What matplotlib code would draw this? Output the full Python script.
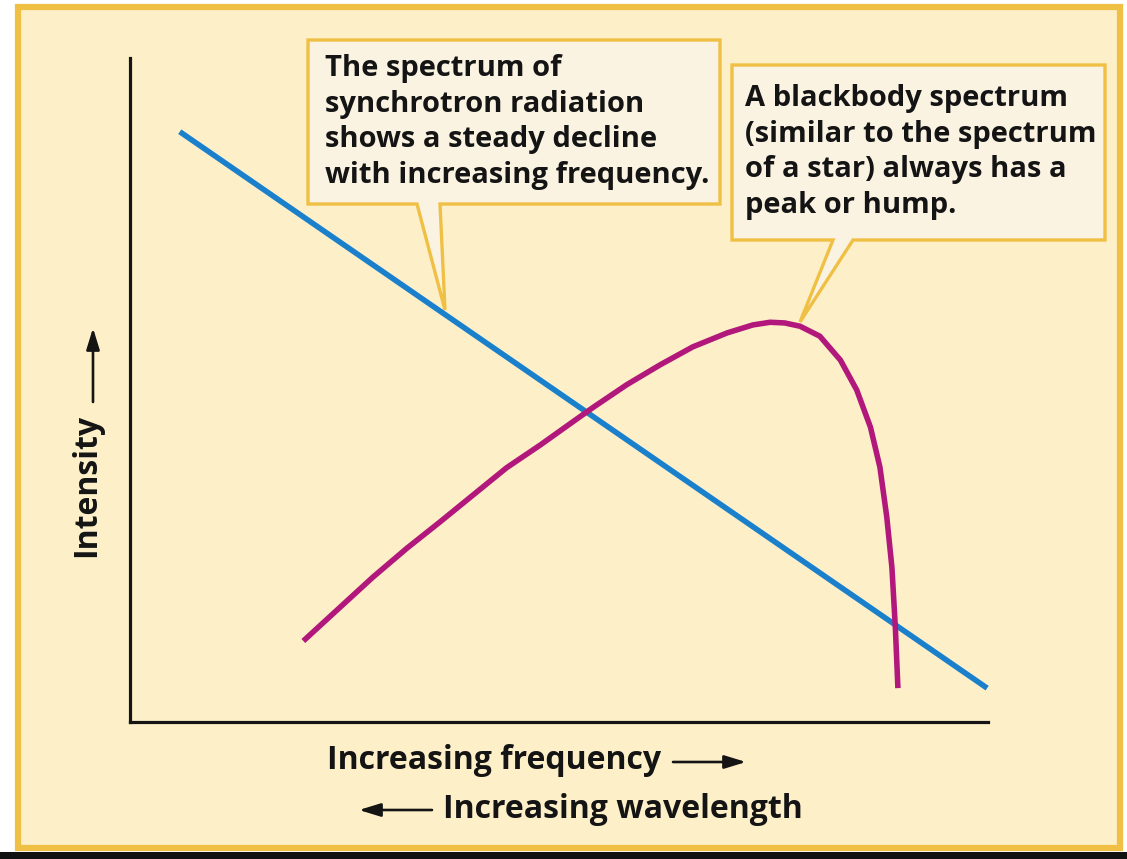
import numpy as np
import matplotlib
matplotlib.use("Agg")
import matplotlib.pyplot as plt
from matplotlib.patches import Rectangle, Polygon, FancyArrowPatch

# spectrum curves (axis runs 0..10 both ways)
sync_x = [0.58, 9.99]
sync_y = [8.89, 0.51]

bb_x = [2.02, 2.45, 2.83, 3.23, 3.61, 4.00, 4.39, 4.78, 5.16, 5.40, 5.79,
        6.18, 6.56, 6.96, 7.26, 7.46, 7.63, 7.81, 8.04, 8.28, 8.47, 8.63,
        8.74, 8.82, 8.88, 8.92, 8.95]
bb_y = [1.22, 1.73, 2.18, 2.62, 3.01, 3.42, 3.83, 4.17, 4.52, 4.74, 5.08,
        5.38, 5.65, 5.86, 5.98, 6.02, 6.01, 5.96, 5.81, 5.45, 5.00, 4.44,
        3.84, 3.09, 2.33, 1.43, 0.51]

note_sync = "The spectrum of\nsynchrotron radiation\nshows a steady decline\nwith increasing frequency."
note_bb = "A blackbody spectrum\n(similar to the spectrum\nof a star) always has a\npeak or hump."
xlabel_1 = "Increasing frequency"
xlabel_2 = "Increasing wavelength"
ylabel = "Intensity"

W, H = 1127, 859
BG = "#FDF0C9"
BOX = "#FBF3E2"
GOLD = "#F0C044"
BLUE = "#1A80CC"
MAGENTA = "#B2187C"
INK = "#141414"
FONT = "Open Sans"


def px(x, y):
    # picture pixels (from top-left) -> figure fraction
    return (x / W, 1 - y / H)


fig = plt.figure(figsize=(W / 100, H / 100), dpi=100)
fig.patch.set_facecolor("white")

# outer frame and black strip at the bottom
fig.patches.append(Rectangle(px(0, 859), 1, 7 / H, transform=fig.transFigure,
                             facecolor="#111111", edgecolor="none", zorder=-3))
fig.patches.append(Rectangle(px(18, 848), (1120 - 18) / W, (848 - 7) / H,
                             transform=fig.transFigure, facecolor=BG,
                             edgecolor=GOLD, linewidth=4.5, zorder=-3))

# callout boxes
box1 = [(308, 40), (720, 40), (720, 204), (440, 204), (445, 310), (417, 204), (308, 204)]
box2 = [(732, 65), (1105, 65), (1105, 240), (853, 240), (800, 322), (833, 240), (732, 240)]
for pts in (box1, box2):
    fig.patches.append(Polygon([px(*p) for p in pts], closed=True,
                               transform=fig.transFigure, facecolor=BOX,
                               edgecolor=GOLD, linewidth=2.4, joinstyle="miter",
                               zorder=-2))

fig.text(*px(325, 54), note_sync, fontsize=21, fontweight="bold", family=FONT,
         va="top", ha="left", linespacing=1.3, color=INK)
fig.text(*px(745, 84), note_bb, fontsize=21, fontweight="bold", family=FONT,
         va="top", ha="left", linespacing=1.3, color=INK)

ax = fig.add_axes([130 / W, 1 - 722 / H, (988 - 130) / W, (722 - 58) / H])
ax.set_facecolor("none")
ax.set_xlim(0, 10)
ax.set_ylim(0, 10)
for s in ("top", "right"):
    ax.spines[s].set_visible(False)
for s in ("left", "bottom"):
    ax.spines[s].set_linewidth(2.3)
    ax.spines[s].set_color(INK)
ax.set_xticks([])
ax.set_yticks([])

ax.plot(sync_x, sync_y, color=BLUE, linewidth=4.0, solid_capstyle="butt", clip_on=False)
ax.plot(bb_x, bb_y, color=MAGENTA, linewidth=4.0, solid_capstyle="butt",
        solid_joinstyle="round", clip_on=False)

# axis labels with their arrows
fig.text(*px(327, 769), xlabel_1, fontsize=23, fontweight="bold", family=FONT,
         ha="left", va="baseline", color=INK)
fig.text(*px(443, 818), xlabel_2, fontsize=23, fontweight="bold", family=FONT,
         ha="left", va="baseline", color=INK)
fig.text(*px(103, 485), ylabel, fontsize=23, fontweight="bold", family=FONT,
         rotation=90, ha="right", va="center", color=INK)

arrow = dict(arrowstyle="-|>,head_length=0.65,head_width=0.2", color=INK,
             linewidth=1.9, shrinkA=0, shrinkB=0, mutation_scale=20,
             transform=fig.transFigure)
fig.add_artist(FancyArrowPatch(px(673, 762), px(746, 762), **arrow))
fig.add_artist(FancyArrowPatch(px(432, 810), px(359, 810), **arrow))
fig.add_artist(FancyArrowPatch(px(93, 402), px(93, 328), **arrow))

fig.savefig("out.png", dpi=100, facecolor=fig.get_facecolor())
